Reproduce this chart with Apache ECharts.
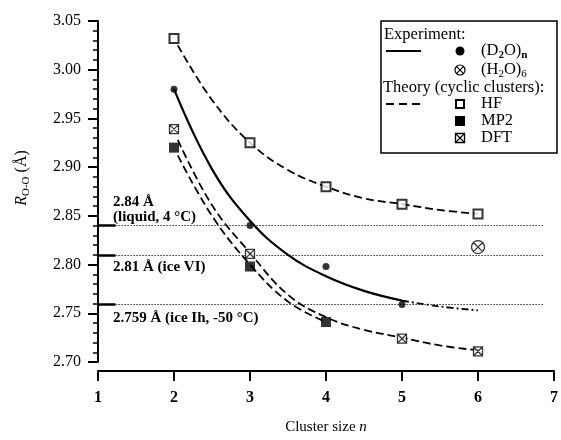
<!DOCTYPE html>
<html><head><meta charset="utf-8">
<script src="https://cdn.jsdelivr.net/npm/echarts@6/dist/echarts.min.js"></script>
<style>html,body{margin:0;padding:0;background:#fff}#c{width:561px;height:440px}</style>
</head><body><div id="c"></div>
<script>
// ---- data ----
const hfN = [2, 3, 4, 5, 6];
const hfR = [3.032, 2.925, 2.880, 2.862, 2.852];
const mp2N = [2, 3, 4];
const mp2R = [2.920, 2.798, 2.741];
const dftN = [2, 3, 5, 6];
const dftR = [2.939, 2.811, 2.724, 2.711];
const d2oN = [2, 3, 4, 5];
const d2oR = [2.980, 2.840, 2.798, 2.759];
const h2o6N = [6];
const h2o6R = [2.818];
// fitted curves
const d2oFitN = [2, 2.5, 3, 3.5, 4, 4.5, 5];
const d2oFitR = [2.980, 2.898, 2.845, 2.810, 2.788, 2.773, 2.763];
const d2oExtN = [5, 5.5, 6];
const d2oExtR = [2.763, 2.757, 2.753];
const hfFitN = [2.05, 2.5, 3, 3.5, 4, 4.5, 5, 5.5, 6];
const hfFitR = [3.025, 2.969, 2.925, 2.897, 2.880, 2.868, 2.862, 2.856, 2.852];
const mp2FitN = [2.05, 2.5, 3, 3.5, 4];
const mp2FitR = [2.912, 2.850, 2.800, 2.762, 2.741];
const dftFitN = [2.05, 2.5, 3, 3.5, 4, 4.5, 5, 5.5, 6];
const dftFitR = [2.928, 2.861, 2.812, 2.769, 2.746, 2.733, 2.725, 2.717, 2.712];
// reference bulk values
const refR = [2.84, 2.81, 2.759];
const refStartN = 1, refMarkEndN = 1.23, refEndN = 6.87;
const xTicks = [1, 2, 3, 4, 5, 6, 7];
const yMin = 2.70, yMax = 3.05, yStep = 0.05;

const zip = (a, b) => a.map((v, i) => [v, b[i]]);
const SERIF = '"Liberation Serif","Times New Roman",serif';
const dftSym = 'path://M0,0 L10,0 L10,10 L0,10 Z M0,0 L10,10 M10,0 L0,10';
const h2oSym = 'path://M0,5 A5,5 0 1,1 10,5 A5,5 0 1,1 0,5 Z M1.46,1.46 L8.54,8.54 M8.54,1.46 L1.46,8.54';

const chart = echarts.init(document.getElementById('c'), null, {renderer: 'canvas'});

const refLines = [];
refR.forEach(v => {
  refLines.push([{coord: [refStartN, v], lineStyle: {type: 'solid', width: 2.5}}, {coord: [refMarkEndN, v]}]);
  refLines.push([{coord: [refMarkEndN, v], lineStyle: {type: [1.2, 1.8], width: 1.1}}, {coord: [refEndN, v]}]);
});

const dashT = [8, 4];
const option = {
  animation: false,
  backgroundColor: '#fff',
  grid: {left: 98, right: 4, top: 21, bottom: 76, containLabel: false},
  xAxis: {
    type: 'value', min: xTicks[0], max: xTicks[xTicks.length - 1], interval: 1, offset: 9,
    axisLine: {show: true, onZero: false, lineStyle: {color: '#000', width: 2}},
    axisTick: {show: true, length: 10, lineStyle: {color: '#000', width: 2}},
    axisLabel: {margin: 19, color: '#000', fontFamily: SERIF, fontSize: 16, fontWeight: 'bold'},
    splitLine: {show: false},
    name: 'Cluster size {i|n}', nameLocation: 'middle', nameGap: 49,
    nameTextStyle: {color: '#000', fontFamily: SERIF, fontSize: 15,
      rich: {i: {fontFamily: SERIF, fontSize: 15, fontStyle: 'italic', color: '#000'}}}
  },
  yAxis: {
    type: 'value', min: yMin, max: yMax, interval: yStep,
    axisLine: {show: true, onZero: false, lineStyle: {color: '#000', width: 2}},
    axisTick: {show: true, length: 10, lineStyle: {color: '#000', width: 2}},
    minorTick: {show: true, splitNumber: 5, length: 5, lineStyle: {color: '#000', width: 1.5}},
    axisLabel: {margin: 17, color: '#000', fontFamily: SERIF, fontSize: 16, formatter: v => v.toFixed(2)},
    splitLine: {show: false}, minorSplitLine: {show: false}
  },
  series: [
    {type: 'line', data: zip(hfFitN, hfFitR), smooth: 0.4, showSymbol: false, silent: true,
     lineStyle: {color: '#000', width: 1.8, type: dashT}, z: 2,
     markLine: {silent: true, symbol: ['none', 'none'], label: {show: false}, animation: false,
       lineStyle: {color: '#000'}, data: refLines}},
    {type: 'line', data: zip(mp2FitN, mp2FitR), smooth: 0.4, showSymbol: false, silent: true,
     lineStyle: {color: '#000', width: 1.8, type: dashT}, z: 2},
    {type: 'line', data: zip(dftFitN, dftFitR), smooth: 0.4, showSymbol: false, silent: true,
     lineStyle: {color: '#000', width: 1.8, type: dashT}, z: 2},
    {type: 'line', data: zip(d2oFitN, d2oFitR), smooth: 0.4, showSymbol: false, silent: true,
     lineStyle: {color: '#000', width: 2.2, type: 'solid'}, z: 2},
    {type: 'line', data: zip(d2oExtN, d2oExtR), smooth: 0.4, showSymbol: false, silent: true,
     lineStyle: {color: '#000', width: 1.8, type: [7, 3, 2, 3]}, z: 2},
    {type: 'scatter', data: zip(hfN, hfR), symbol: 'rect', symbolSize: 9,
     itemStyle: {color: '#fff', borderColor: '#000', borderWidth: 2}, z: 5},
    {type: 'scatter', data: zip(mp2N, mp2R), symbol: 'rect', symbolSize: 10,
     itemStyle: {color: '#000'}, z: 5},
    {type: 'scatter', data: zip(dftN, dftR), symbol: dftSym, symbolSize: 9,
     itemStyle: {color: '#fff', borderColor: '#000', borderWidth: 1.3}, z: 5},
    {type: 'scatter', data: zip(d2oN, d2oR), symbol: 'circle', symbolSize: 7,
     itemStyle: {color: '#000'}, z: 5},
    {type: 'scatter', data: zip(h2o6N, h2o6R), symbol: h2oSym, symbolSize: 13,
     itemStyle: {color: '#fff', borderColor: '#000', borderWidth: 1.3}, z: 5}
  ]
};
chart.setOption(option);

// ---- annotations and legend ----
const boldAnn = 'bold 15px ' + SERIF;
const legFont = '16.5px ' + SERIF;
const sub = {fontFamily: SERIF, fontSize: 11, lineHeight: 10, verticalAlign: 'bottom', fill: '#000'};
const nrm = {fontFamily: SERIF, fontSize: 16.5, lineHeight: 20, fill: '#000'};
const LX = 381, LY = 21;
function txt(x, y, text, font, extra) {
  return Object.assign({type: 'text', x: x, y: y, z: 20,
    style: Object.assign({text: text, font: font, fill: '#000', textAlign: 'left', textVerticalAlign: 'middle'}, extra || {})});
}
function ln(x1, y1, x2, y2, w, dash) {
  const st = {stroke: '#000', lineWidth: w};
  if (dash) st.lineDash = dash;
  return {type: 'line', z: 21, shape: {x1: x1, y1: y1, x2: x2, y2: y2}, style: st};
}
function circX(cx, cy, r) {
  const d = r * 0.707;
  return [
    {type: 'circle', z: 20, shape: {cx: cx, cy: cy, r: r}, style: {fill: '#fff', stroke: '#000', lineWidth: 1.2}},
    ln(cx - d, cy - d, cx + d, cy + d, 1.1), ln(cx + d, cy - d, cx - d, cy + d, 1.1)
  ];
}
function boxX(cx, cy, w) {
  const h = w / 2;
  return [
    {type: 'rect', z: 20, shape: {x: cx - h, y: cy - h, width: w, height: w}, style: {fill: '#fff', stroke: '#000', lineWidth: 1.3}},
    ln(cx - h, cy - h, cx + h, cy + h, 1.1), ln(cx + h, cy - h, cx - h, cy + h, 1.1)
  ];
}
const graphics = [
  txt(113, 202, '2.84 Å', boldAnn),
  txt(113, 217, '(liquid, 4 °C)', boldAnn),
  txt(113, 267, '2.81 Å (ice VI)', boldAnn),
  txt(113, 318, '2.759 Å (ice Ih, -50 °C)', boldAnn),
  {type: 'text', x: 22, y: 178, rotation: Math.PI / 2, z: 20,
   style: {text: '{i|R}{s|O-O}{n| (Å)}', fill: '#000', textAlign: 'center', textVerticalAlign: 'middle', font: '16px ' + SERIF,
     rich: {i: Object.assign({}, nrm, {fontSize: 16, fontStyle: 'italic'}), s: sub, n: Object.assign({}, nrm, {fontSize: 16})}}},
  {type: 'rect', z: 19, shape: {x: LX, y: LY, width: 176, height: 132},
   style: {fill: '#fff', stroke: '#000', lineWidth: 1.5}},
  txt(LX + 3, 35, 'Experiment:', legFont),
  ln(386, 51, 421, 51, 2.2),
  {type: 'circle', z: 20, shape: {cx: 460, cy: 51, r: 4.5}, style: {fill: '#000'}},
  txt(481, 51, '{n|(D}{s|2}{n|O)}{s|n}', legFont, {rich: {n: nrm, s: Object.assign({}, sub, {fontWeight: 'bold'})}}),
  ...circX(460, 70, 5),
  txt(481, 70, '{n|(H}{s|2}{n|O)}{s|6}', legFont, {rich: {n: nrm, s: sub}}),
  txt(LX + 2, 88, 'Theory (cyclic clusters):', legFont),
  ln(386, 104, 421, 104, 1.8, [8, 5]),
  {type: 'rect', z: 20, shape: {x: 456, y: 100, width: 8, height: 8}, style: {fill: '#fff', stroke: '#000', lineWidth: 2}},
  txt(481, 104, 'HF', legFont),
  {type: 'rect', z: 20, shape: {x: 455, y: 116, width: 10, height: 10}, style: {fill: '#000'}},
  txt(481, 121, 'MP2', legFont),
  ...boxX(460, 138, 9),
  txt(481, 138, 'DFT', legFont)
];
chart.setOption({graphic: graphics});
</script></body></html>
